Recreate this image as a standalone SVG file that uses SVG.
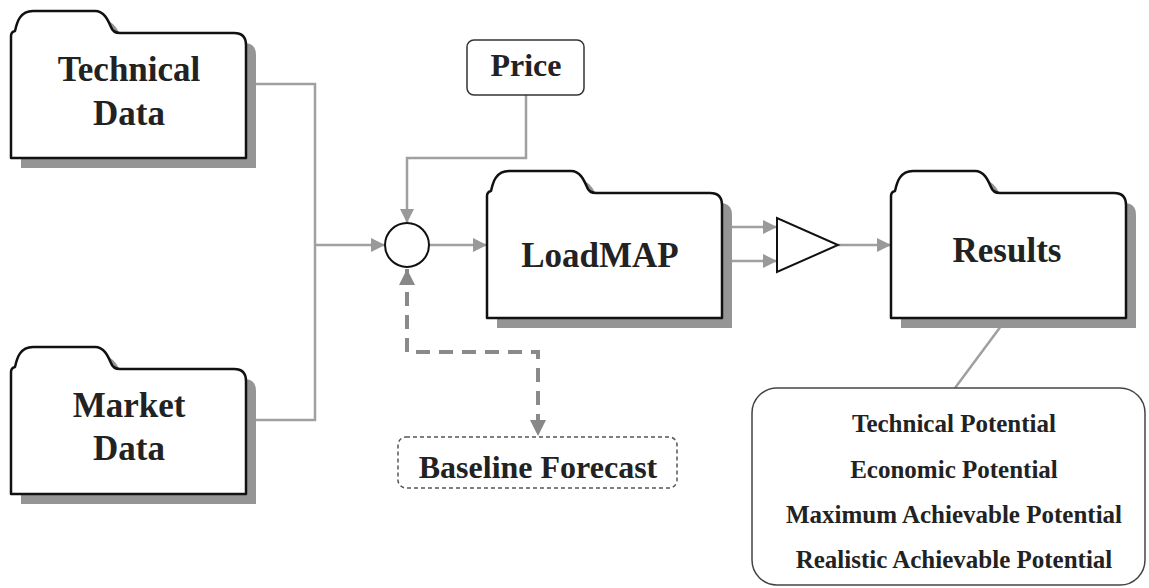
<svg xmlns="http://www.w3.org/2000/svg" xmlns:xlink="http://www.w3.org/1999/xlink" width="1149" height="588" viewBox="0 0 1149 588">
<style>
text{font-family:"Liberation Serif","Times New Roman",serif;font-weight:bold;fill:#222;text-anchor:middle}
.big{font-size:35px}
.mid{font-size:32px}
.sm{font-size:25px}
.folder{fill:#fff;stroke:#111;stroke-width:2.5;stroke-linejoin:round}
.shadow{fill:#959595;stroke:none}
.conn{fill:none;stroke:#a0a0a0;stroke-width:2.5}
.dash{fill:none;stroke:#8a8a8a;stroke-width:4;stroke-dasharray:14 9}
</style>
<defs>
<path id="fold" d="M0,147 L0,25 Q0,21 4,20 C6,11 9,0 22,0 L84,0 C93,0 97,9 100,16 Q102,22 109,22 L223,22 Q235,22 235,34 L235,147 Z"/>
<marker id="ah" viewBox="0 0 10 10" refX="10" refY="5" markerWidth="14" markerHeight="14" markerUnits="userSpaceOnUse" orient="auto-start-reverse">
<path d="M0,0 L10,5 L0,10 Z" fill="#999"/>
</marker>
<marker id="ahd" viewBox="0 0 10 10" refX="10" refY="5" markerWidth="16" markerHeight="16" markerUnits="userSpaceOnUse" orient="auto-start-reverse">
<path d="M0,0 L10,5 L0,10 Z" fill="#888"/>
</marker>
</defs>
<rect width="1149" height="588" fill="#fff"/>

<g id="connectors">
<polyline class="conn" points="246,84 315,84 315,420 246,420"/>
<line class="conn" x1="315" y1="245" x2="385" y2="245" marker-end="url(#ah)"/>
<polyline class="conn" points="526,95 526,158 407,158 407,223" marker-end="url(#ah)"/>
<line class="conn" x1="429" y1="245" x2="487" y2="245" marker-end="url(#ah)"/>
<line class="conn" x1="721" y1="227" x2="777" y2="227" marker-end="url(#ah)"/>
<line class="conn" x1="721" y1="261" x2="777" y2="261" marker-end="url(#ah)"/>
<line class="conn" x1="838" y1="245" x2="891" y2="245" marker-end="url(#ah)"/>
<line class="conn" x1="1007" y1="318" x2="955" y2="388"/>
<polyline class="dash" points="407,269 407,352 538,352 538,436" marker-start="url(#ahd)" marker-end="url(#ahd)"/>
</g>

<g id="technical-data">
<use xlink:href="#fold" class="shadow" transform="translate(21,21)"/>
<use xlink:href="#fold" class="folder" transform="translate(11,11)"/>
<text class="big" x="129" y="81">Technical</text>
<text class="big" x="129" y="125">Data</text>
</g>

<g id="market-data">
<use xlink:href="#fold" class="shadow" transform="translate(21,357)"/>
<use xlink:href="#fold" class="folder" transform="translate(11,347)"/>
<text class="big" x="129" y="417">Market</text>
<text class="big" x="129" y="460">Data</text>
</g>

<g id="price">
<rect x="467" y="40" width="117" height="55" rx="7" fill="#fff" stroke="#333" stroke-width="1.5"/>
<text class="mid" x="526" y="76">Price</text>
</g>

<g id="junction">
<circle cx="407" cy="245" r="22" fill="#fff" stroke="#111" stroke-width="2"/>
</g>

<g id="loadmap">
<use xlink:href="#fold" class="shadow" transform="translate(497,181)"/>
<use xlink:href="#fold" class="folder" transform="translate(487,171)"/>
<text class="big" x="600" y="267">LoadMAP</text>
</g>

<g id="amplifier">
<polygon points="777,218 777,272 838,245" fill="#fff" stroke="#111" stroke-width="2" stroke-linejoin="miter"/>
</g>

<g id="results">
<use xlink:href="#fold" class="shadow" transform="translate(901,181)"/>
<use xlink:href="#fold" class="folder" transform="translate(891,171)"/>
<text class="big" x="1007" y="262">Results</text>
</g>

<g id="baseline-forecast">
<rect x="398" y="437" width="279" height="51" rx="8" fill="#fff" stroke="#555" stroke-width="1.5" stroke-dasharray="4 3"/>
<text class="mid" x="538" y="478">Baseline Forecast</text>
</g>

<g id="results-list">
<rect x="752" y="388" width="393" height="197" rx="25" fill="#fff" stroke="#444" stroke-width="1.5"/>
<text class="sm" x="954" y="432">Technical Potential</text>
<text class="sm" x="954" y="478">Economic Potential</text>
<text class="sm" x="954" y="523">Maximum Achievable Potential</text>
<text class="sm" x="954" y="568">Realistic Achievable Potential</text>
</g>
</svg>
